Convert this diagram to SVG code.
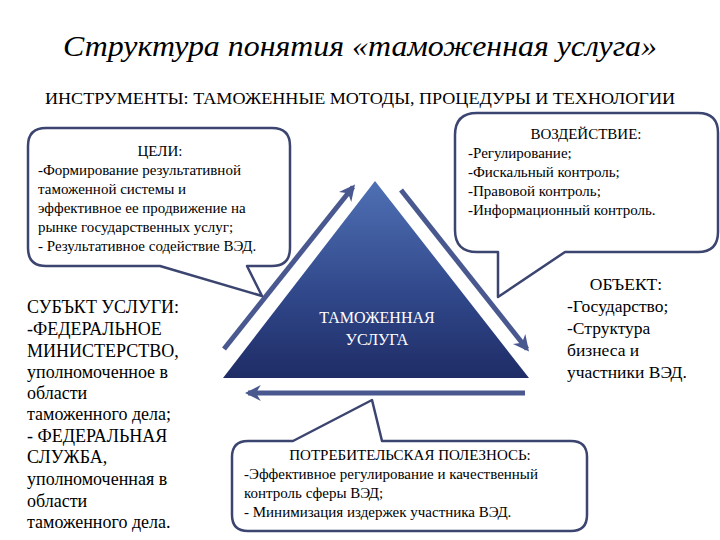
<svg xmlns="http://www.w3.org/2000/svg" width="720" height="540" viewBox="0 0 720 540">
<defs>
<linearGradient id="triGrad" x1="0" y1="0" x2="0" y2="1">
<stop offset="0" stop-color="#4f70b4"/>
<stop offset="0.6" stop-color="#2f4688"/>
<stop offset="1" stop-color="#1f2c66"/>
</linearGradient>
<marker id="arrowHead" viewBox="0 0 10 10" refX="8" refY="5" markerWidth="3.2" markerHeight="3.2" orient="auto" markerUnits="strokeWidth">
<path d="M0,0 L10,5 L0,10 L3,5 Z" fill="#4a5890"/>
</marker>
<style>
.callout{fill:#ffffff;stroke:#3b4570;stroke-width:2.5;stroke-linejoin:round}
text{font-family:"Liberation Serif","DejaVu Serif","Times New Roman",serif;fill:#000}
.c{font-size:15px}
.s{font-size:18px}
.arrow{stroke:#4a5890;stroke-width:5;fill:none;marker-end:url(#arrowHead)}
</style>
</defs>
<rect width="720" height="540" fill="#ffffff"/>

<text x="360" y="56" font-size="30" font-style="italic" text-anchor="middle" textLength="594" lengthAdjust="spacingAndGlyphs">Структура понятия «таможенная услуга»</text>
<text x="360" y="104" font-size="16" text-anchor="middle" textLength="630" lengthAdjust="spacingAndGlyphs">ИНСТРУМЕНТЫ: ТАМОЖЕННЫЕ МОТОДЫ, ПРОЦЕДУРЫ И ТЕХНОЛОГИИ</text>

<g id="triangle">
<polygon points="375,181 223,378 529,378" fill="url(#triGrad)"/>
<text x="377" y="323" font-size="16" text-anchor="middle" style="fill:#ffffff">ТАМОЖЕННАЯ</text>
<text x="377" y="345" font-size="16" text-anchor="middle" style="fill:#ffffff">УСЛУГА</text>
</g>

<g id="connectors">
<line class="arrow" x1="224" y1="349" x2="353" y2="187"/>
<line class="arrow" x1="401" y1="190" x2="527" y2="349"/>
<line class="arrow" x1="525" y1="393" x2="248" y2="393"/>
</g>

<g id="goals">
<path class="callout" d="M46,128 H272 Q290,128 290,146 V248 Q290,266 272,266 H247 L262,296 L160,266 H46 Q28,266 28,248 V146 Q28,128 46,128 Z"/>
<text class="c" x="160" y="156" text-anchor="middle">ЦЕЛИ:</text>
<text class="c" x="38" y="175">-Формирование результативной</text>
<text class="c" x="38" y="194">таможенной системы и</text>
<text class="c" x="38" y="213">эффективное ее продвижение на</text>
<text class="c" x="38" y="232">рынке государственных услуг;</text>
<text class="c" x="38" y="251">- Результативное содействие ВЭД.</text>
</g>

<g id="impact">
<path class="callout" d="M477,113 H698 Q718,113 718,133 V232 Q718,252 698,252 H565 L498,297 V252 H477 Q455,252 455,230 V135 Q455,113 477,113 Z"/>
<text class="c" x="586" y="139" text-anchor="middle">ВОЗДЕЙСТВИЕ:</text>
<text class="c" x="468" y="158">-Регулирование;</text>
<text class="c" x="468" y="177">-Фискальный контроль;</text>
<text class="c" x="468" y="196">-Правовой контроль;</text>
<text class="c" x="468" y="215">-Информационный контроль.</text>
</g>

<g id="subject">
<text class="s" x="27" y="313">СУБЪКТ УСЛУГИ:</text>
<text class="s" x="27" y="335">-ФЕДЕРАЛЬНОЕ</text>
<text class="s" x="27" y="357">МИНИСТЕРСТВО,</text>
<text class="s" x="27" y="378">уполномоченное в</text>
<text class="s" x="27" y="399">области</text>
<text class="s" x="27" y="420">таможенного дела;</text>
<text class="s" x="27" y="442">- ФЕДЕРАЛЬНАЯ</text>
<text class="s" x="27" y="463">СЛУЖБА,</text>
<text class="s" x="27" y="485">уполномоченная в</text>
<text class="s" x="27" y="507">области</text>
<text class="s" x="27" y="528">таможенного дела.</text>
</g>

<g id="object">
<text x="626" y="290" font-size="17.5" text-anchor="middle">ОБЪЕКТ:</text>
<text x="567" y="312" font-size="17.5">-Государство;</text>
<text x="567" y="334" font-size="17.5">-Структура</text>
<text x="567" y="356" font-size="17.5">бизнеса и</text>
<text x="567" y="378" font-size="17.5">участники ВЭД.</text>
</g>

<g id="utility">
<path class="callout" d="M248,441 H293 L372,400 L382,441 H571 Q587,441 587,457 V515 Q587,531 571,531 H248 Q232,531 232,515 V457 Q232,441 248,441 Z"/>
<text class="c" x="410" y="460" text-anchor="middle">ПОТРЕБИТЕЛЬСКАЯ ПОЛЕЗНОСЬ:</text>
<text class="c" x="244" y="479">-Эффективное регулирование и качественный</text>
<text class="c" x="244" y="498">контроль сферы ВЭД;</text>
<text class="c" x="244" y="517">- Минимизация издержек участника ВЭД.</text>
</g>
</svg>
